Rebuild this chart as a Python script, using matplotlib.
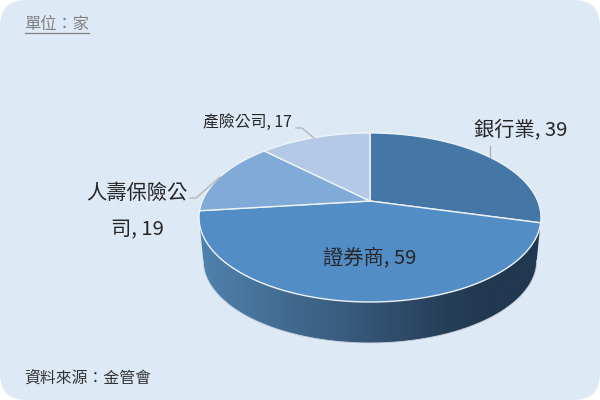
import numpy as np
import matplotlib
matplotlib.use("Agg")
import matplotlib.pyplot as plt
from matplotlib.patches import FancyBboxPatch, Polygon
from matplotlib.colors import LinearSegmentedColormap

plt.rcParams['font.family'] = ['Noto Sans CJK TC', 'DejaVu Sans']

# clockwise from 12 o'clock
values = [39, 59, 19, 17]
colors = ['#4477a6', '#538dc5', '#80abd9', '#b3c9e5']
unit_text = '單位：家'
source_text = '資料來源：金管會'

# perspective of the disc (fitted on the picture, pixels)
cx, cy = 370.0, 201.0
A, B, k = 167.7, 81.3, 0.195
side_scale, side_cy = 0.975, 244.5


def rim(theta):
    u = np.sin(theta)
    v = -np.cos(theta)
    d = 1 - k * v
    return cx + A * u / d, cy + B * v / d


fig = plt.figure(figsize=(6, 4), dpi=100, facecolor='white')
ax = fig.add_axes([0, 0, 1, 1])
ax.set_xlim(0, 600)
ax.set_ylim(400, 0)
ax.axis('off')

ax.add_patch(FancyBboxPatch((0, 0), 600, 400, boxstyle='round,pad=0,rounding_size=26',
                            fc='#dde9f5', ec='none', mutation_aspect=1))

# side wall
t0 = np.arccos(-k)
front = np.linspace(t0, 2 * np.pi - t0, 200)
tx, ty = rim(front)
bx = cx + (tx - cx) * side_scale
by = side_cy + (ty - cy) * side_scale
side_poly = np.column_stack([np.r_[bx, tx[::-1]], np.r_[by, ty[::-1]]])
side_cmap = LinearSegmentedColormap.from_list(
    'side', [(0, '#4f82ae'), (0.45, '#38597a'), (0.72, '#263f58'), (0.85, '#203850'), (1, '#203850')])
img = ax.imshow(np.linspace(0, 1, 256).reshape(1, -1), cmap=side_cmap, aspect='auto',
                extent=(200, 541, 345, 200), zorder=2)
clip = Polygon(side_poly, closed=True, transform=ax.transData, fc='none', ec='none')
ax.add_patch(clip)
img.set_clip_path(clip)
ax.plot(bx, by, color='#c8d0d8', lw=0.6, zorder=2)
ax.set_xlim(0, 600)
ax.set_ylim(400, 0)

# top slices
edges = np.cumsum([0] + values) / sum(values) * 2 * np.pi
for i in range(len(values)):
    th = np.linspace(edges[i], edges[i + 1], 150)
    x, y = rim(th)
    ax.fill(np.r_[cx, x], np.r_[cy, y], fc=colors[i], ec='#eef3f8', lw=1.0, zorder=3,
            joinstyle='round')

# leader lines
leader = dict(color='#b5b5b5', lw=1.0, zorder=4)
ax.plot([296, 302, 314], [128, 128, 138], **leader)
ax.plot([190, 196, 220], [198, 198, 177], **leader)
ax.plot([490, 490], [146, 157], **leader)

# labels
ink = '#262626'
ax.text(521, 129.5, '銀行業, 39', fontsize=14.6, color=ink, ha='center', va='center', zorder=5)
ax.text(370, 258.5, '證券商, 59', fontsize=14.6, color=ink, ha='center', va='center', zorder=5)
ax.text(137, 193.5, '人壽保險公', fontsize=14.6, color=ink, ha='center', va='center', zorder=5)
ax.text(137, 229.5, '司, 19', fontsize=14.6, color=ink, ha='center', va='center', zorder=5)
ax.text(247.5, 122, '產險公司, 17', fontsize=11.4, color=ink, ha='center', va='center', zorder=5)

ax.text(24.5, 24.5, unit_text, fontsize=11.7, color='#808080', ha='left', va='center')
ax.plot([25, 89], [32.5, 32.5], color='#808080', lw=0.9)
ax.text(24.5, 378, source_text, fontsize=11.4, color='#333333', ha='left', va='center')

fig.savefig('out.png', dpi=100, facecolor='white')
